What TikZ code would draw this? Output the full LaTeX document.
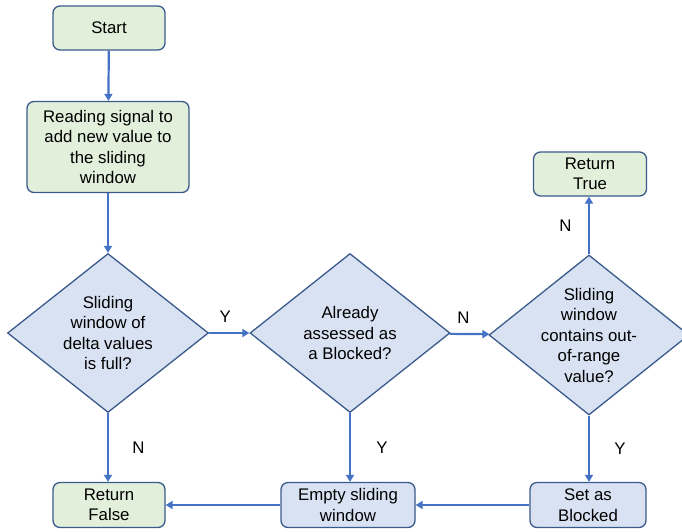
\documentclass[tikz,border=0pt]{standalone}
\usepackage{fontspec}
\setmainfont{Liberation Sans}
\usetikzlibrary{shapes.geometric,arrows.meta}

\definecolor{greenfill}{HTML}{E2EFDA}
\definecolor{bluefill}{HTML}{D9E2F3}
\definecolor{boxline}{HTML}{3B5A8C}
\definecolor{edgeblue}{HTML}{4472C4}

\begin{document}
\begin{tikzpicture}[x=1pt,y=-1pt]
                \tikzset{every node/.style={font=\fontsize{16.8}{20.5}\selectfont, align=center}}
                \tikzset{BoxStyle/.style={draw=boxline, line width=1.3pt, rounded corners=7pt, inner sep=0pt}}
                \tikzset{GreenBox/.style={BoxStyle, fill=greenfill}}
                \tikzset{BlueBox/.style={BoxStyle, fill=bluefill}}
                \tikzset{DecisionStyle/.style={draw=boxline, line width=1.3pt, fill=bluefill, diamond, inner sep=0pt}}
                \tikzset{EdgeStyle/.style={draw=edgeblue, line width=2.2pt, -{Triangle[length=7pt,width=8pt]}}}
                \useasboundingbox (0,0) rectangle (682,531);
                \node[GreenBox, minimum width=112pt, minimum height=44pt] (start) at (109,28) {Start};
                \node[GreenBox, minimum width=162pt, minimum height=91pt] (read) at (108,147) {Reading signal to\\add new value to\\the sliding\\window};
                \node[DecisionStyle, minimum width=201pt, minimum height=159pt, label={center:Sliding\\window of\\delta values\\is full?}] (full) at (108,333) {};
                \node[DecisionStyle, minimum width=200pt, minimum height=159pt, label={center:Already\\assessed as\\a Blocked?}] (check) at (350,333) {};
                \node[DecisionStyle, minimum width=200pt, minimum height=160pt, label={center:Sliding\\window\\contains out-\\of-range\\value?}] (range) at (589,335) {};
                \node[GreenBox, minimum width=113pt, minimum height=44pt] (rtrue) at (590,174) {Return\\True};
                \node[GreenBox, minimum width=112pt, minimum height=45pt] (rfalse) at (109,505) {Return\\False};
                \node[BlueBox, minimum width=134pt, minimum height=45pt] (empty) at (348,505) {Empty sliding\\window};
                \node[BlueBox, minimum width=116pt, minimum height=45pt] (set) at (588,505) {Set as\\Blocked};
                \draw[EdgeStyle] (start) -- (read);
                \draw[EdgeStyle] (read) -- (full);
                \draw[EdgeStyle] (full) -- node[pos=0.4, above=6pt] (y1) {Y} (check);
                \draw[EdgeStyle] (check) -- node[pos=0.35, above=6pt] (n1) {N} (range);
                \draw[EdgeStyle] (range.north) -- node[left=13pt] (n2) {N} (range.north |- rtrue.south);
                \draw[EdgeStyle] (full.south) -- node[right=20pt] (n3) {N} (full.south |- rfalse.north);
                \draw[EdgeStyle] (check.south) -- node[right=22pt] (y2) {Y} (check.south |- empty.north);
                \draw[EdgeStyle] (range.south) -- node[right=21pt] (y3) {Y} (range.south |- set.north);
                \draw[EdgeStyle] (set) -- (empty);
                \draw[EdgeStyle] (empty) -- (rfalse);
            \end{tikzpicture}
\end{document}
